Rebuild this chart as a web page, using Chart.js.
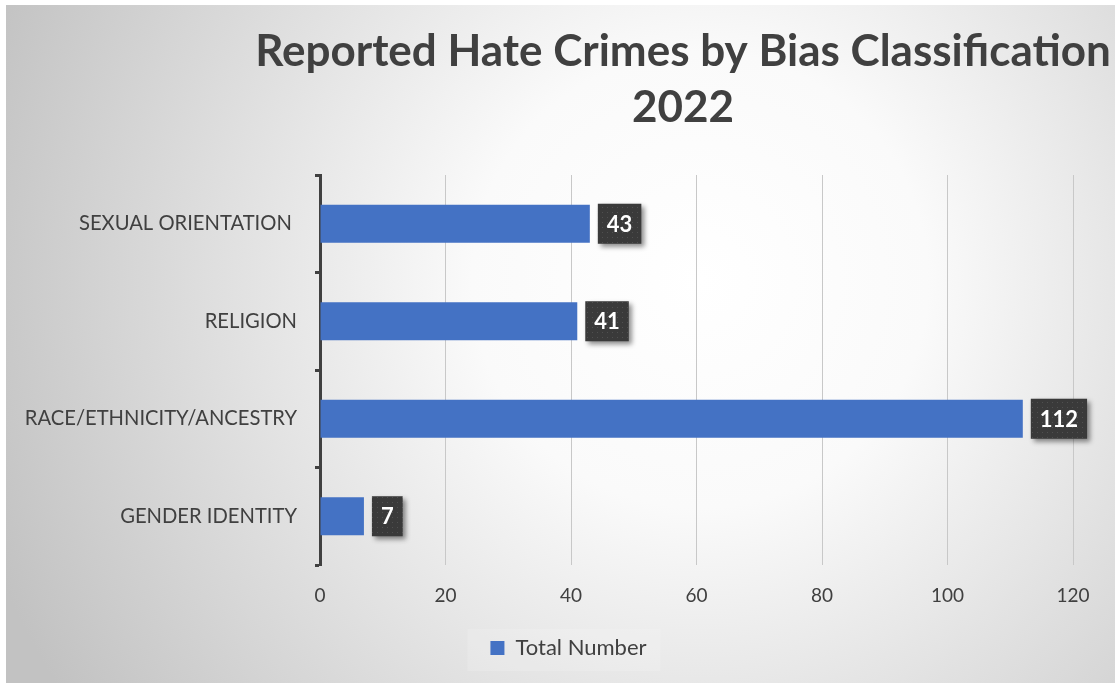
<!DOCTYPE html>
<html>
<head>
<meta charset="utf-8">
<title>Reported Hate Crimes by Bias Classification 2022</title>
<script src="https://cdn.jsdelivr.net/npm/chart.js@4/dist/chart.umd.min.js"></script>
<style>
  html, body { margin: 0; padding: 0; background: #ffffff; }
  #wrap { width: 1115px; height: 683px; }
</style>
</head>
<body>
<div id="wrap"><canvas id="canvas" width="1115" height="683"></canvas></div>
<script>
var categories = ['SEXUAL ORIENTATION ', 'RELIGION', 'RACE/ETHNICITY/ANCESTRY', 'GENDER IDENTITY'];
var totals = [43, 41, 112, 7];
var seriesName = 'Total Number';
var titleLines = ['Reported Hate Crimes by Bias Classification', '2022'];
var xTicks = [0, 20, 40, 60, 80, 100, 120];

var textColor = '#404040';
var barColor = '#4472C4';
var fontFamily = 'Lato, "Open Sans", sans-serif';

// dotted fill for the value boxes
function dotPattern(ctx) {
    var c = document.createElement('canvas');
    c.width = 5; c.height = 5;
    var p = c.getContext('2d');
    p.fillStyle = '#3a3a3a';
    p.fillRect(0, 0, 5, 5);
    p.fillStyle = '#505050';
    p.fillRect(2, 2, 1, 1);
    return ctx.createPattern(c, 'repeat');
}

var backdrop = {
    id: 'backdrop',
    afterLayout: function(chart) {
        // legend sits a little right of centre
        chart.legend.left += 29;
        chart.legend.right += 29;
    },
    beforeDraw: function(chart) {
        var ctx = chart.ctx;
        ctx.save();
        ctx.fillStyle = '#ffffff';
        ctx.fillRect(0, 0, chart.width, chart.height);
        var g = ctx.createRadialGradient(700, 280, 0, 700, 280, 760);
        g.addColorStop(0, '#ffffff');
        g.addColorStop(0.3, '#fafafa');
        g.addColorStop(1, '#c2c2c2');
        ctx.fillStyle = g;
        ctx.fillRect(6, 5, chart.width - 6, chart.height - 5);

        // faint panel behind the legend
        var lg = chart.legend;
        ctx.fillStyle = 'rgba(255,255,255,0.15)';
        ctx.fillRect(lg.left + (lg.width / 2) - 101, lg.top + 2, 193, 42);

        // title
        ctx.fillStyle = textColor;
        ctx.font = 'bold 44px ' + fontFamily;
        ctx.textAlign = 'center';
        ctx.textBaseline = 'middle';
        ctx.fillText(titleLines[0], 683, 52);
        ctx.fillText(titleLines[1], 683, 108);
        ctx.restore();
    },
    beforeDatasetsDraw: function(chart) {
        var ctx = chart.ctx;
        ctx.save();
        ctx.shadowColor = 'rgba(0,0,0,0.18)';
        ctx.shadowBlur = 18;
        chart.getDatasetMeta(0).data.forEach(function(bar) {
            ctx.fillStyle = 'rgba(0,0,0,0.01)';
            var top = bar.y - bar.height / 2;
            ctx.fillRect(bar.base, top, bar.x - bar.base, bar.height);
        });
        ctx.restore();
    },
    afterDatasetsDraw: function(chart) {
        var ctx = chart.ctx;
        var meta = chart.getDatasetMeta(0);
        var fill = dotPattern(ctx);
        ctx.save();
        ctx.font = 'bold 22px ' + fontFamily;
        meta.data.forEach(function(bar, i) {
            var txt = String(totals[i]);
            var w = ctx.measureText(txt).width + 18;
            var h = bar.height + 2;
            var x = bar.x + 8;
            var y = bar.y - h / 2;
            ctx.save();
            ctx.shadowColor = 'rgba(0,0,0,0.45)';
            ctx.shadowBlur = 5;
            ctx.shadowOffsetX = 3;
            ctx.shadowOffsetY = 3;
            ctx.fillStyle = fill;
            ctx.fillRect(x, y, w, h);
            ctx.restore();
            ctx.fillStyle = '#ffffff';
            ctx.textAlign = 'center';
            ctx.textBaseline = 'middle';
            ctx.fillText(txt, x + w / 2, bar.y + 1);
        });
        ctx.restore();
    }
};

var config = {
    type: 'bar',
    data: {
        labels: categories,
        datasets: [{
            label: seriesName,
            data: totals,
            backgroundColor: barColor,
            borderWidth: 0,
            categoryPercentage: 1,
            barPercentage: 0.39
        }]
    },
    options: {
        indexAxis: 'y',
        responsive: false,
        animation: false,
        layout: {
            padding: { top: 175, left: 6, right: 42, bottom: 14 }
        },
        plugins: {
            title: { display: false },
            tooltip: { enabled: false },
            legend: {
                position: 'bottom',
                labels: {
                    color: textColor,
                    font: { family: fontFamily, size: 22 },
                    boxWidth: 14,
                    boxHeight: 14,
                    padding: 10
                }
            }
        },
        scales: {
            x: {
                min: 0,
                max: 120,
                afterBuildTicks: function(scale) {
                    scale.ticks = xTicks.map(function(v) { return { value: v }; });
                },
                afterFit: function(scale) { scale.height = 62; },
                grid: { color: '#c8c8c8', lineWidth: 1, drawTicks: false },
                border: { display: false },
                ticks: {
                    color: textColor,
                    padding: 19,
                    font: { family: fontFamily, size: 19 }
                }
            },
            y: {
                afterFit: function(scale) { scale.width = 314; },
                grid: {
                    drawOnChartArea: false,
                    tickLength: 5,
                    tickWidth: 3,
                    tickColor: '#404040'
                },
                border: { display: true, color: '#404040', width: 3 },
                ticks: {
                    color: textColor,
                    padding: 18,
                    font: { family: fontFamily, size: 20.2 }
                }
            }
        }
    },
    plugins: [backdrop]
};

window.onload = function() {
    var ctx = document.getElementById('canvas').getContext('2d');
    window.hateChart = new Chart(ctx, config);
};
</script>
</body>
</html>
